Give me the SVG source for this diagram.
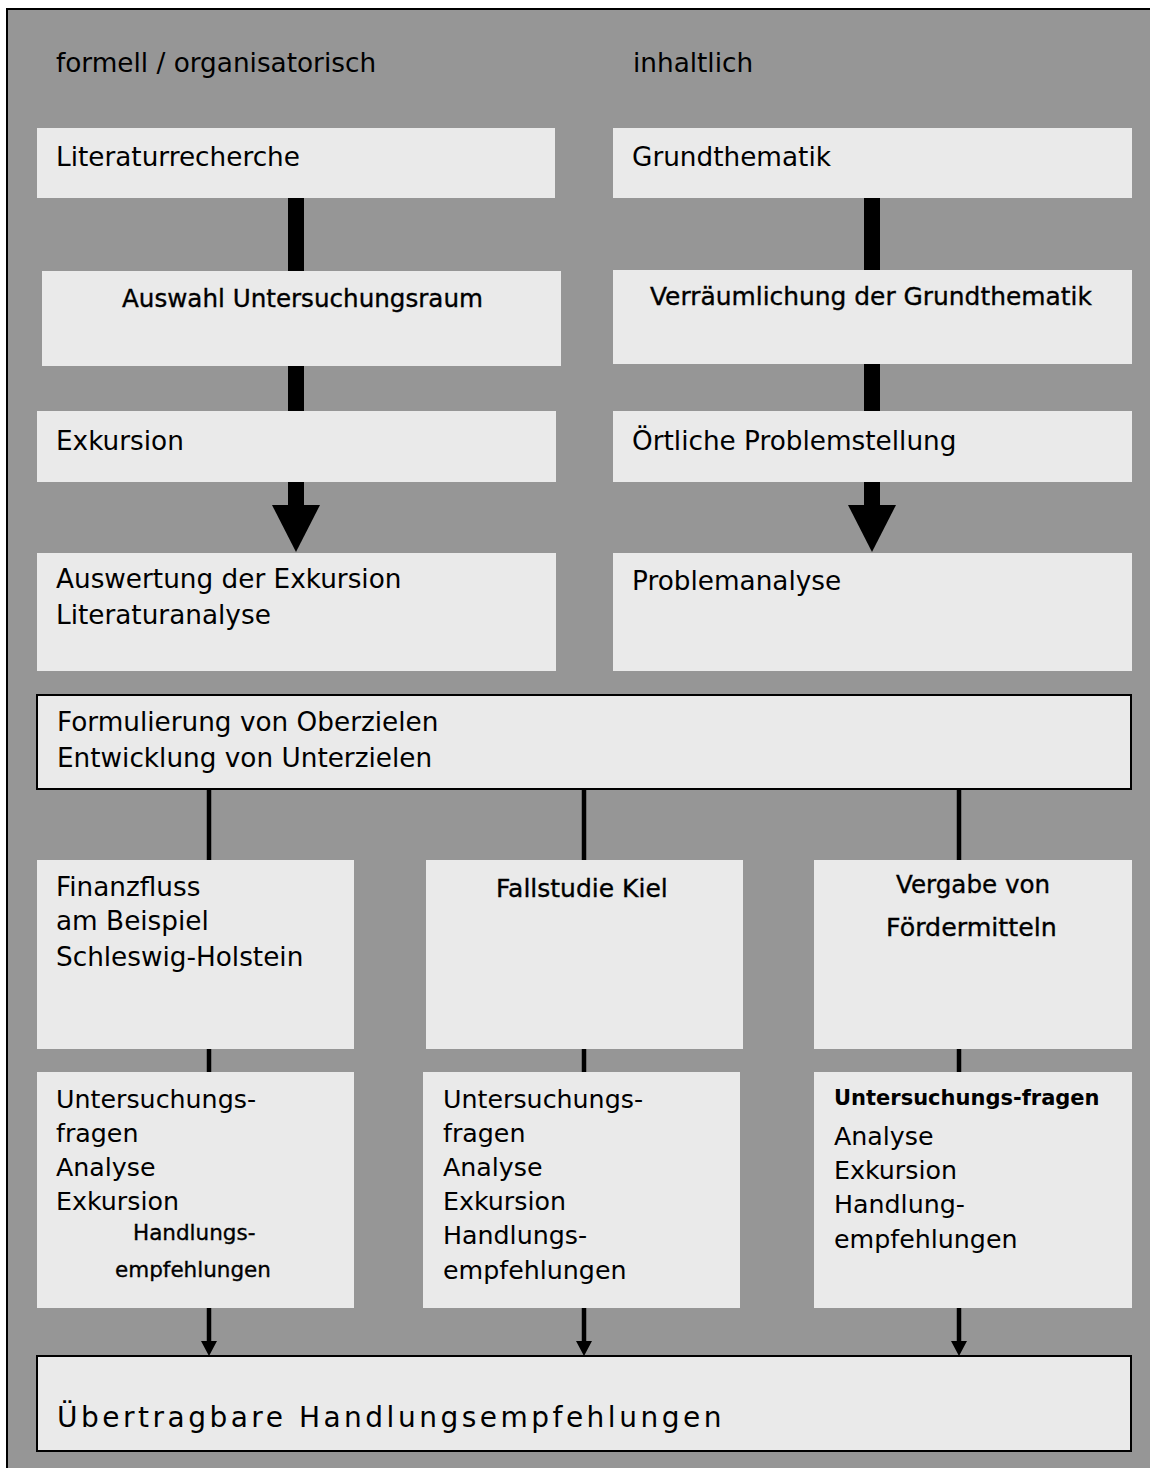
<svg xmlns="http://www.w3.org/2000/svg" width="1150" height="1468" viewBox="0 0 1150 1468">
<style>
.box{fill:#eaeaea}
.obox{fill:#eaeaea;stroke:#000;stroke-width:2}
.t{font-family:"DejaVu Sans",Verdana,sans-serif;font-size:26.3px;fill:#000}
.m{font-size:25.3px}
.s{font-size:24.6px;stroke:#000;stroke-width:0.35}
.x{font-size:21.5px;stroke:#000;stroke-width:0.35}
.b{font-size:21px;font-weight:bold}
.big{font-size:28px;letter-spacing:3.5px}
.bar{fill:#000}
.ln{stroke:#000;stroke-width:4.5;fill:none}
</style>
<defs>
<marker id="ah" markerUnits="userSpaceOnUse" markerWidth="16" markerHeight="16" refX="0" refY="8" orient="auto" viewBox="0 0 16 16">
<path d="M0,0 L15,8 L0,16 Z" fill="#000"/>
</marker>
</defs>
<rect x="7" y="9" width="1160" height="1470" fill="#969696" stroke="#000" stroke-width="2"/>
<g id="headers">
<text class="t" x="56" y="72">formell / organisatorisch</text>
<text class="t" x="633" y="72">inhaltlich</text>
</g>
<g id="connectors">
<rect class="bar" x="288" y="197" width="16" height="76"/>
<rect class="bar" x="288" y="365" width="16" height="48"/>
<rect class="bar" x="288" y="481" width="16" height="26"/>
<path class="bar" d="M272,505 L320,505 L296,552 Z"/>
<rect class="bar" x="864" y="197" width="16" height="75"/>
<rect class="bar" x="864" y="363" width="16" height="50"/>
<rect class="bar" x="864" y="481" width="16" height="26"/>
<path class="bar" d="M848,505 L896,505 L872,552 Z"/>
<line class="ln" x1="209" y1="789" x2="209" y2="862"/>
<line class="ln" x1="584" y1="789" x2="584" y2="862"/>
<line class="ln" x1="959" y1="789" x2="959" y2="862"/>
<line class="ln" x1="209" y1="1048" x2="209" y2="1074"/>
<line class="ln" x1="584" y1="1048" x2="584" y2="1074"/>
<line class="ln" x1="959" y1="1048" x2="959" y2="1074"/>
<line class="ln" x1="209" y1="1307" x2="209" y2="1341" marker-end="url(#ah)"/>
<line class="ln" x1="584" y1="1307" x2="584" y2="1341" marker-end="url(#ah)"/>
<line class="ln" x1="959" y1="1307" x2="959" y2="1341" marker-end="url(#ah)"/>
</g>
<g id="n-literaturrecherche">
<rect class="box" x="37" y="128" width="518" height="70"/>
<text class="t" x="56" y="166">Literaturrecherche</text>
</g>
<g id="n-grundthematik">
<rect class="box" x="613" y="128" width="519" height="70"/>
<text class="t" x="632" y="166">Grundthematik</text>
</g>
<g id="n-auswahl">
<rect class="box" x="42" y="271" width="519" height="95"/>
<text class="t s" x="122" y="307">Auswahl Untersuchungsraum</text>
</g>
<g id="n-verraeumlichung">
<rect class="box" x="613" y="270" width="519" height="94"/>
<text class="t s" x="650" y="305" style="font-size:24.9px">Verräumlichung der Grundthematik</text>
</g>
<g id="n-exkursion">
<rect class="box" x="37" y="411" width="519" height="71"/>
<text class="t" x="56" y="450">Exkursion</text>
</g>
<g id="n-oertliche">
<rect class="box" x="613" y="411" width="519" height="71"/>
<text class="t" x="632" y="450">Örtliche Problemstellung</text>
</g>
<g id="n-auswertung">
<rect class="box" x="37" y="553" width="519" height="118"/>
<text class="t" x="56" y="588">Auswertung der Exkursion</text>
<text class="t" x="56" y="624">Literaturanalyse</text>
</g>
<g id="n-problemanalyse">
<rect class="box" x="613" y="553" width="519" height="118"/>
<text class="t" x="632" y="590">Problemanalyse</text>
</g>
<g id="n-formulierung">
<rect class="obox" x="37" y="695" width="1094" height="94"/>
<text class="t" x="57" y="731">Formulierung von Oberzielen</text>
<text class="t" x="57" y="767">Entwicklung von Unterzielen</text>
</g>
<g id="n-finanzfluss">
<rect class="box" x="37" y="860" width="317" height="189"/>
<text class="t" x="56" y="896">Finanzfluss</text>
<text class="t" x="56" y="930">am Beispiel</text>
<text class="t" x="56" y="966">Schleswig-Holstein</text>
</g>
<g id="n-fallstudie">
<rect class="box" x="426" y="860" width="317" height="189"/>
<text class="t s" x="496" y="897" style="font-size:25px">Fallstudie Kiel</text>
</g>
<g id="n-vergabe">
<rect class="box" x="814" y="860" width="318" height="189"/>
<text class="t s" x="896" y="893">Vergabe von</text>
<text class="t s" x="886" y="936" style="font-size:25.3px">Fördermitteln</text>
</g>
<g id="n-fragen-links">
<rect class="box" x="37" y="1072" width="317" height="236"/>
<text class="t m" x="56" y="1108">Untersuchungs-</text>
<text class="t m" x="56" y="1142">fragen</text>
<text class="t m" x="56" y="1176">Analyse</text>
<text class="t m" x="56" y="1210">Exkursion</text>
<text class="t x" x="133" y="1240">Handlungs-</text>
<text class="t x" x="115" y="1277">empfehlungen</text>
</g>
<g id="n-fragen-mitte">
<rect class="box" x="423" y="1072" width="317" height="236"/>
<text class="t m" x="443" y="1108">Untersuchungs-</text>
<text class="t m" x="443" y="1142">fragen</text>
<text class="t m" x="443" y="1176">Analyse</text>
<text class="t m" x="443" y="1210">Exkursion</text>
<text class="t m" x="443" y="1244">Handlungs-</text>
<text class="t m" x="443" y="1279">empfehlungen</text>
</g>
<g id="n-fragen-rechts">
<rect class="box" x="814" y="1072" width="318" height="236"/>
<text class="t b" x="834" y="1105">Untersuchungs-fragen</text>
<text class="t m" x="834" y="1145">Analyse</text>
<text class="t m" x="834" y="1179">Exkursion</text>
<text class="t m" x="834" y="1213">Handlung-</text>
<text class="t m" x="834" y="1248">empfehlungen</text>
</g>
<g id="n-uebertragbare">
<rect class="obox" x="37" y="1356" width="1094" height="95"/>
<text class="t big" x="57" y="1427">Übertragbare Handlungsempfehlungen</text>
</g>
</svg>
